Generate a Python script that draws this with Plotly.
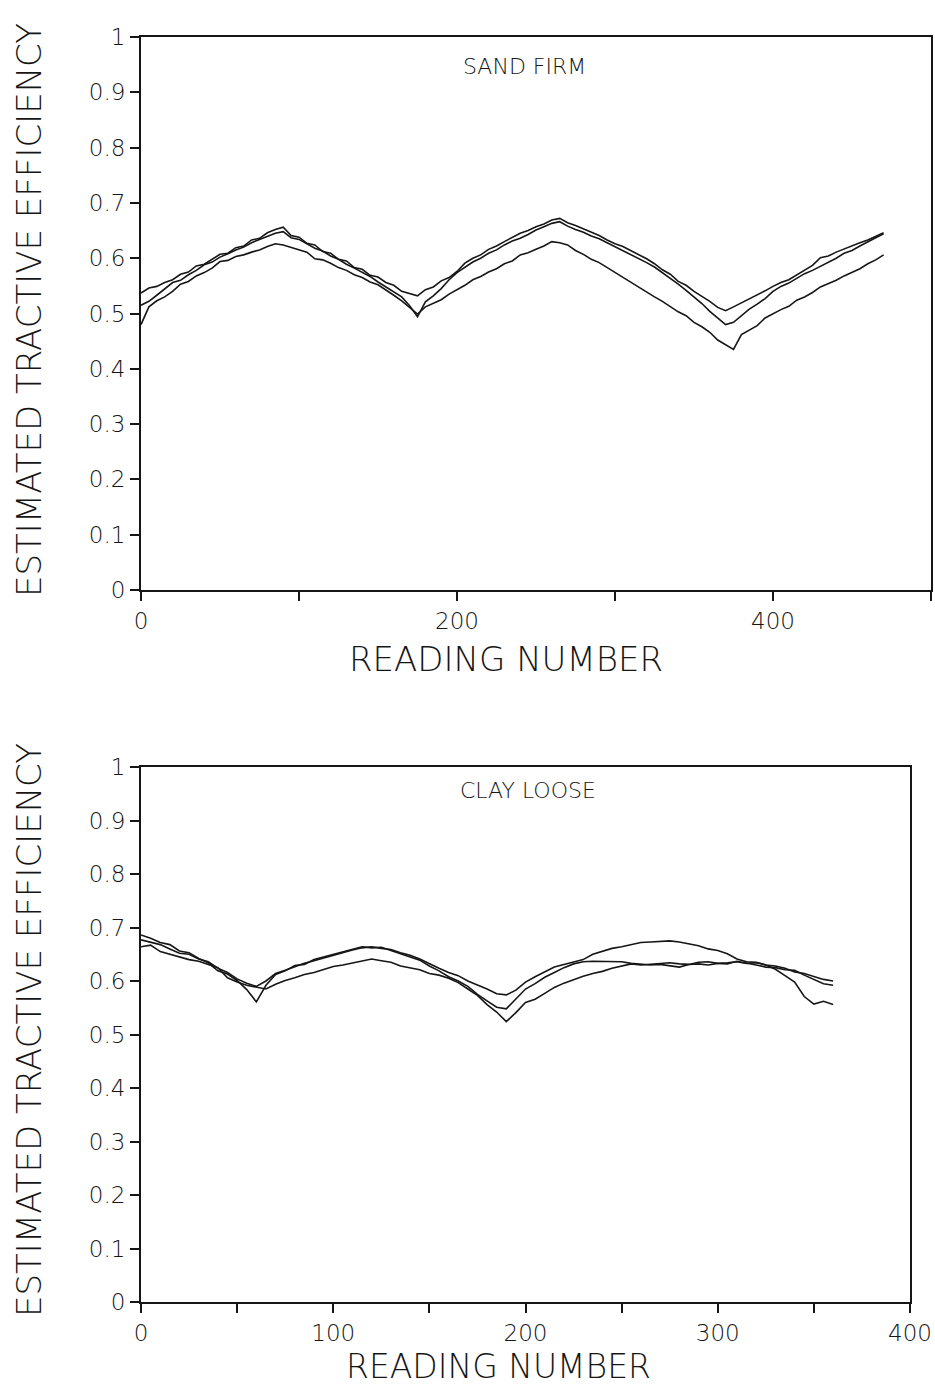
import plotly.graph_objects as go

# ---------------------------------------------------------------------------
# Data: estimated tractive efficiency against reading number, three runs each
# ---------------------------------------------------------------------------
sand_readings = list(range(0, 471, 5))

sand_run_a = [
    0.537, 0.546, 0.549, 0.556, 0.561, 0.571, 0.575, 0.586, 0.589, 0.598,
    0.607, 0.609, 0.619, 0.622, 0.633, 0.636, 0.646, 0.652, 0.656, 0.641,
    0.638, 0.627, 0.624, 0.612, 0.609, 0.598, 0.595, 0.583, 0.580, 0.569,
    0.566, 0.556, 0.551, 0.540, 0.536, 0.532, 0.543, 0.548, 0.559, 0.565,
    0.576, 0.591, 0.600, 0.606, 0.616, 0.622, 0.630, 0.638, 0.645, 0.650,
    0.657, 0.662, 0.669, 0.672, 0.664, 0.659, 0.653, 0.648, 0.641, 0.633,
    0.626, 0.621, 0.614, 0.607, 0.599, 0.590, 0.579, 0.571, 0.558, 0.551,
    0.540, 0.531, 0.522, 0.511, 0.505, 0.512, 0.519, 0.527, 0.533, 0.541,
    0.549, 0.556, 0.561, 0.570, 0.578, 0.587, 0.601, 0.604, 0.611, 0.617,
    0.622, 0.628, 0.633, 0.640, 0.646,
]

sand_run_b = [
    0.515, 0.522, 0.533, 0.545, 0.556, 0.560, 0.570, 0.578, 0.588, 0.593,
    0.602, 0.608, 0.615, 0.620, 0.628, 0.634, 0.640, 0.645, 0.648, 0.637,
    0.634, 0.626, 0.618, 0.613, 0.604, 0.598, 0.589, 0.582, 0.574, 0.567,
    0.557, 0.548, 0.539, 0.530, 0.514, 0.494, 0.521, 0.532, 0.545, 0.561,
    0.574, 0.584, 0.593, 0.600, 0.609, 0.615, 0.624, 0.631, 0.636, 0.643,
    0.651, 0.657, 0.663, 0.666, 0.658, 0.652, 0.647, 0.640, 0.635, 0.628,
    0.621, 0.614, 0.607, 0.600, 0.592, 0.584, 0.574, 0.564, 0.553, 0.542,
    0.530, 0.518, 0.504, 0.492, 0.480, 0.484, 0.496, 0.508, 0.517, 0.527,
    0.540, 0.549, 0.555, 0.563, 0.572, 0.578, 0.585, 0.593, 0.600, 0.609,
    0.614, 0.622, 0.630, 0.637, 0.644,
]

sand_run_c = [
    0.480, 0.512, 0.523, 0.530, 0.540, 0.553, 0.558, 0.568, 0.574, 0.582,
    0.594, 0.596, 0.603, 0.606, 0.611, 0.615, 0.621, 0.626, 0.624, 0.620,
    0.616, 0.611, 0.599, 0.597, 0.591, 0.583, 0.578, 0.570, 0.565, 0.557,
    0.552, 0.543, 0.533, 0.523, 0.511, 0.499, 0.512, 0.519, 0.525, 0.535,
    0.543, 0.551, 0.561, 0.567, 0.575, 0.581, 0.590, 0.595, 0.606, 0.610,
    0.616, 0.622, 0.630, 0.628, 0.624, 0.614, 0.607, 0.598, 0.592, 0.583,
    0.575, 0.565, 0.557, 0.548, 0.538, 0.530, 0.522, 0.512, 0.503, 0.496,
    0.484, 0.476, 0.466, 0.452, 0.443, 0.435, 0.462, 0.470, 0.478, 0.492,
    0.500, 0.507, 0.513, 0.524, 0.530, 0.538, 0.548, 0.554, 0.560, 0.568,
    0.575, 0.581, 0.590, 0.597, 0.606,
]

clay_readings = list(range(0, 361, 5))

clay_run_a = [
    0.677, 0.672, 0.668, 0.660, 0.652, 0.650, 0.641, 0.636, 0.624, 0.616,
    0.604, 0.596, 0.590, 0.600, 0.614, 0.620, 0.627, 0.633, 0.638, 0.643,
    0.649, 0.653, 0.658, 0.662, 0.664, 0.661, 0.659, 0.653, 0.648, 0.641,
    0.632, 0.624, 0.616, 0.610, 0.600, 0.593, 0.585, 0.576, 0.574, 0.583,
    0.598, 0.608, 0.617, 0.626, 0.631, 0.636, 0.640, 0.650, 0.656, 0.661,
    0.664, 0.668, 0.672, 0.673, 0.674, 0.675, 0.673, 0.669, 0.666, 0.660,
    0.657, 0.651, 0.641, 0.636, 0.635, 0.630, 0.622, 0.610, 0.598, 0.571,
    0.557, 0.562, 0.556,
]

clay_run_b = [
    0.686, 0.680, 0.672, 0.668, 0.656, 0.653, 0.642, 0.634, 0.619, 0.613,
    0.601, 0.584, 0.561, 0.592, 0.612, 0.619, 0.629, 0.631, 0.640, 0.645,
    0.650, 0.655, 0.659, 0.664, 0.662, 0.663, 0.657, 0.651, 0.645, 0.639,
    0.628, 0.619, 0.608, 0.600, 0.590, 0.575, 0.563, 0.551, 0.548, 0.566,
    0.585, 0.595, 0.607, 0.616, 0.625, 0.632, 0.636, 0.637, 0.637, 0.636,
    0.636, 0.633, 0.632, 0.630, 0.631, 0.629, 0.626, 0.631, 0.632, 0.630,
    0.633, 0.634, 0.636, 0.633, 0.634, 0.630, 0.628, 0.624, 0.617, 0.614,
    0.609, 0.603, 0.600,
]

clay_run_c = [
    0.664, 0.667, 0.655, 0.650, 0.646, 0.640, 0.637, 0.631, 0.625, 0.606,
    0.598, 0.592, 0.588, 0.585, 0.594, 0.601, 0.606, 0.612, 0.616, 0.622,
    0.627, 0.630, 0.634, 0.638, 0.641, 0.638, 0.635, 0.628, 0.625, 0.621,
    0.614, 0.611, 0.605, 0.597, 0.585, 0.573, 0.556, 0.542, 0.524, 0.541,
    0.560, 0.566, 0.577, 0.588, 0.596, 0.603, 0.609, 0.614, 0.618, 0.624,
    0.628, 0.632, 0.630, 0.631, 0.633, 0.634, 0.632, 0.631, 0.635, 0.636,
    0.633, 0.632, 0.637, 0.634, 0.630, 0.626, 0.625, 0.621, 0.620, 0.611,
    0.603, 0.595, 0.592,
]

efficiency_ticks = [0, 0.1, 0.2, 0.3, 0.4, 0.5, 0.6, 0.7, 0.8, 0.9, 1]
efficiency_labels = ["0", "0.1", "0.2", "0.3", "0.4", "0.5", "0.6", "0.7", "0.8", "0.9", "1"]
sand_x_ticks = [0, 100, 200, 300, 400, 500]
sand_x_labels = ["0", "", "200", "", "400", ""]
clay_x_ticks = [0, 50, 100, 150, 200, 250, 300, 350, 400]
clay_x_labels = ["0", "", "100", "", "200", "", "300", "", "400"]

# ---------------------------------------------------------------------------
# Page geometry (pixels)
# ---------------------------------------------------------------------------
W, H = 935, 1388
FONT = "DejaVu Sans"
INK = "#161616"


def px_x(x):
    return x / W


def px_y(y):
    return 1 - y / H


fig = go.Figure()

for run in (sand_run_a, sand_run_b, sand_run_c):
    fig.add_trace(go.Scatter(
        x=sand_readings, y=run, mode="lines",
        line=dict(color=INK, width=1.6), xaxis="x", yaxis="y",
        showlegend=False, hoverinfo="skip",
    ))

for run in (clay_run_a, clay_run_b, clay_run_c):
    fig.add_trace(go.Scatter(
        x=clay_readings, y=run, mode="lines",
        line=dict(color=INK, width=1.6), xaxis="x2", yaxis="y2",
        showlegend=False, hoverinfo="skip",
    ))

axis_common = dict(
    showgrid=False, zeroline=False, showline=True, mirror=True,
    linecolor=INK, linewidth=2, ticks="outside", ticklen=9, tickwidth=1.5,
    tickcolor=INK, tickfont=dict(family=FONT, size=23, color=INK, weight=300),
    fixedrange=True, automargin=False,
)

fig.update_layout(
    width=W, height=H, autosize=False,
    margin=dict(l=0, r=0, t=0, b=0, pad=0),
    paper_bgcolor="white", plot_bgcolor="white",
    xaxis=dict(axis_common, domain=[px_x(141), px_x(931)], range=[0, 500],
               tickmode="array", tickvals=sand_x_ticks, ticktext=sand_x_labels,
               anchor="y"),
    yaxis=dict(axis_common, domain=[px_y(590), px_y(37)], range=[0, 1],
               tickmode="array", tickvals=efficiency_ticks, ticktext=efficiency_labels,
               anchor="x"),
    xaxis2=dict(axis_common, domain=[px_x(141), px_x(910)], range=[0, 400],
                tickmode="array", tickvals=clay_x_ticks, ticktext=clay_x_labels,
                anchor="y2"),
    yaxis2=dict(axis_common, domain=[px_y(1302), px_y(767)], range=[0, 1],
                tickmode="array", tickvals=efficiency_ticks, ticktext=efficiency_labels,
                anchor="x2"),
)

# Axis titles and panel labels placed as free text
texts = [
    ("ESTIMATED TRACTIVE EFFICIENCY", 29, 310, 34, -90),
    ("ESTIMATED TRACTIVE EFFICIENCY", 29, 1030, 34, -90),
    ("READING NUMBER", 506, 659, 34, 0),
    ("READING NUMBER", 498, 1366, 33, 0),
    ("SAND FIRM", 524, 66, 22, 0),
    ("CLAY LOOSE", 528, 791, 22, 0),
]
for text, cx, cy, size, angle in texts:
    fig.add_annotation(
        text=text, x=px_x(cx), y=px_y(cy), xref="paper", yref="paper",
        xanchor="center", yanchor="middle", showarrow=False, textangle=angle,
        font=dict(family=FONT, size=size, color=INK, weight=300),
    )

fig.write_html("out.html")
